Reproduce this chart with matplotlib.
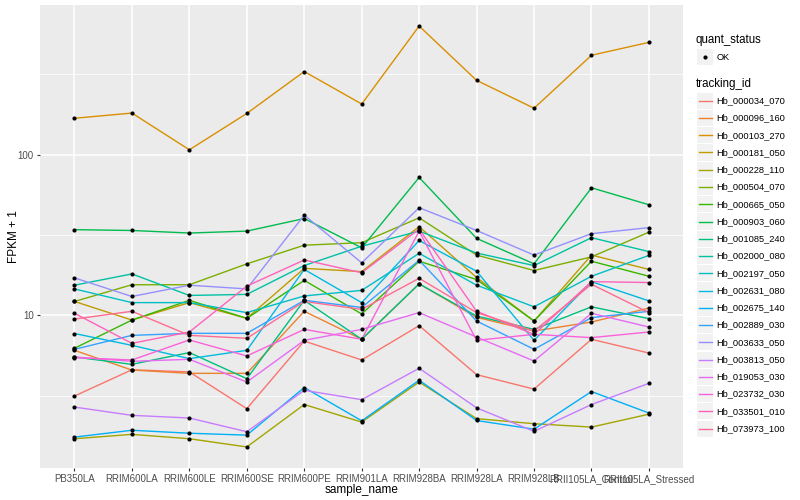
import matplotlib
matplotlib.use('Agg')
import matplotlib.pyplot as plt
import numpy as np
from matplotlib.lines import Line2D
from matplotlib.patches import Rectangle
from matplotlib.ticker import FixedLocator, NullFormatter

plt.rcParams['font.family'] = ['Liberation Sans', 'DejaVu Sans']

samples = ['PB350LA', 'RRIM600LA', 'RRIM600LE', 'RRIM600SE', 'RRIM600PE', 'RRIM901LA',
           'RRIM928BA', 'RRIM928LA', 'RRIM928LB', 'RRII105LA_Control', 'RRII105LA_Stressed']

tracking_ids = ['Hb_000034_070', 'Hb_000096_160', 'Hb_000103_270', 'Hb_000181_050', 'Hb_000228_110',
                'Hb_000504_070', 'Hb_000665_050', 'Hb_000903_060', 'Hb_001085_240', 'Hb_002000_080',
                'Hb_002197_050', 'Hb_002631_080', 'Hb_002675_140', 'Hb_002889_030', 'Hb_003633_050',
                'Hb_003813_050', 'Hb_019053_030', 'Hb_023732_030', 'Hb_033501_010', 'Hb_073973_100']

colors = ['#F8766D', '#EA8331', '#D89000', '#C09B00', '#A3A500', '#7CAE00', '#39B600', '#00BB4E',
          '#00BF7D', '#00C1A3', '#00BFC4', '#00BAE0', '#00B0F6', '#35A2FF', '#9590FF', '#C77CFF',
          '#E76BF3', '#FA62DB', '#FF62BC', '#FF6C91']

# FPKM + 1 values per sample
Hb_000034_070 = [3.15, 4.59, 4.45, 2.63, 6.92, 5.28, 8.63, 4.28, 3.48, 7.10, 5.83]
Hb_000096_160 = [6.06, 4.57, 4.36, 4.36, 10.6, 7.10, 15.7, 9.72, 7.99, 9.09, 11.1]
Hb_000103_270 = [168, 181, 107, 180, 328, 206, 629, 289, 194, 414, 498]
Hb_000181_050 = [12.2, 9.35, 12.0, 9.58, 19.6, 18.7, 35.6, 17.2, 9.22, 23.7, 19.3]
Hb_000228_110 = [1.71, 1.82, 1.71, 1.52, 2.79, 2.17, 3.85, 2.28, 2.12, 2.02, 2.43]
Hb_000504_070 = [12.2, 15.5, 15.5, 20.9, 27.3, 28.3, 40.4, 23.7, 19.0, 23.1, 32.9]
Hb_000665_050 = [6.24, 9.35, 12.4, 9.58, 16.5, 10.2, 21.7, 16.7, 9.22, 21.7, 17.5]
Hb_000903_060 = [34.1, 33.7, 32.5, 33.4, 40.0, 26.3, 72.0, 30.1, 20.9, 62.1, 48.7]
Hb_001085_240 = [5.51, 4.96, 5.87, 4.04, 12.4, 7.10, 15.7, 9.90, 8.18, 11.3, 9.54]
Hb_002000_080 = [15.4, 18.1, 13.3, 13.5, 20.4, 26.9, 33.4, 24.4, 20.4, 30.4, 24.9]
Hb_002197_050 = [14.6, 12.0, 12.0, 10.4, 13.2, 14.3, 24.3, 15.4, 11.3, 17.5, 23.6]
Hb_002631_080 = [7.71, 6.51, 5.38, 6.06, 19.3, 12.0, 29.2, 18.8, 6.99, 16.2, 12.3]
Hb_002675_140 = [1.75, 1.93, 1.85, 1.80, 3.56, 2.21, 3.95, 2.22, 1.96, 3.36, 2.47]
Hb_002889_030 = [6.15, 7.51, 7.73, 7.73, 12.4, 11.2, 22.0, 9.22, 6.15, 9.68, 10.6]
Hb_003633_050 = [17.1, 13.1, 15.4, 14.6, 42.0, 21.2, 46.7, 33.7, 23.7, 32.2, 35.1]
Hb_003813_050 = [2.69, 2.39, 2.30, 1.89, 3.42, 2.99, 4.69, 2.66, 1.90, 2.79, 3.78]
Hb_019053_030 = [5.51, 5.18, 5.33, 3.85, 6.99, 8.18, 10.4, 7.33, 5.20, 10.3, 8.46]
Hb_023732_030 = [5.46, 5.28, 7.03, 5.59, 8.18, 7.10, 33.4, 6.99, 7.62, 7.27, 7.88]
Hb_033501_010 = [10.3, 6.70, 7.88, 15.2, 22.1, 18.4, 34.4, 10.6, 7.62, 16.2, 16.0]
Hb_073973_100 = [9.48, 10.6, 7.51, 7.20, 12.2, 10.9, 17.0, 10.4, 7.99, 15.6, 10.4]

series = [Hb_000034_070, Hb_000096_160, Hb_000103_270, Hb_000181_050, Hb_000228_110,
          Hb_000504_070, Hb_000665_050, Hb_000903_060, Hb_001085_240, Hb_002000_080,
          Hb_002197_050, Hb_002631_080, Hb_002675_140, Hb_002889_030, Hb_003633_050,
          Hb_003813_050, Hb_019053_030, Hb_023732_030, Hb_033501_010, Hb_073973_100]

W, H = 800, 500
fig = plt.figure(figsize=(8, 5), dpi=100)
fig.patch.set_facecolor('white')

def fx(px):
    return px / W

def fy(py):
    return 1 - py / H

left, right, top, bottom = 40, 683.4, 5, 468
ax = fig.add_axes([fx(left), fy(bottom), fx(right - left), (bottom - top) / H])
ax.set_facecolor('#EBEBEB')
for s in ax.spines.values():
    s.set_visible(False)

x = np.arange(len(samples))
for vals, c in zip(series, colors):
    ax.plot(x, vals, color=c, lw=1.0, zorder=3, solid_capstyle='butt')
for vals in series:
    ax.plot(x, vals, 'o', color='black', ms=3.0, mew=0, zorder=4)

ax.set_yscale('log')
allv = np.log10(np.concatenate([np.array(v, dtype=float) for v in series]))
lo, hi = allv.min(), allv.max()
pad = 0.05 * (hi - lo)
ax.set_ylim(10 ** (lo - pad), 10 ** (hi + pad))
ax.set_xlim(-0.6, len(samples) - 0.4)

ax.yaxis.set_major_locator(FixedLocator([10, 100]))
ax.set_yticklabels(['10', '100'])
ax.yaxis.set_minor_locator(FixedLocator([10 ** 0.5, 10 ** 1.5, 10 ** 2.5]))
ax.yaxis.set_minor_formatter(NullFormatter())
ax.set_xticks(x)
ax.set_xticklabels(samples)

ax.grid(True, which='major', color='white', lw=1.1)
ax.grid(True, which='minor', axis='y', color='white', lw=0.55)
ax.set_axisbelow(True)
ax.tick_params(axis='both', which='major', length=2.5, width=0.8, color='#333333',
               labelsize=7, labelcolor='#4D4D4D', pad=2)
ax.tick_params(axis='y', which='minor', length=0)

ax.set_xlabel('sample_name', fontsize=8.5, labelpad=0)
ax.set_ylabel('FPKM + 1', fontsize=8.5, labelpad=-1.5)

# legends (drawn like ggplot guides)
tx = 696
fig.text(fx(tx), fy(40.5), 'quant_status', fontsize=8.3, va='center', ha='left')
fig.patches.append(Rectangle((fx(697), fy(65)), 16 / W, 16 / H, transform=fig.transFigure,
                             facecolor='#F2F2F2', edgecolor='none'))
fig.lines.append(Line2D([fx(705)], [fy(57)], marker='o', ms=3.0, mew=0, color='black',
                        transform=fig.transFigure))
fig.text(fx(716.5), fy(57), 'OK', fontsize=6.7, va='center', ha='left')

fig.text(fx(tx), fy(84.5), 'tracking_id', fontsize=8.3, va='center', ha='left')
step = 17.26
for i, (tid, c) in enumerate(zip(tracking_ids, colors)):
    yc = 100.7 + step * i
    fig.patches.append(Rectangle((fx(697), fy(yc + 8.1)), 16 / W, 16.2 / H,
                                 transform=fig.transFigure, facecolor='#F2F2F2', edgecolor='none'))
    fig.lines.append(Line2D([fx(698.5), fx(711.5)], [fy(yc), fy(yc)], color=c, lw=1.0,
                            transform=fig.transFigure))
    fig.text(fx(716.5), fy(yc), tid, fontsize=6.7, va='center', ha='left')

fig.savefig('out.png', dpi=100)
